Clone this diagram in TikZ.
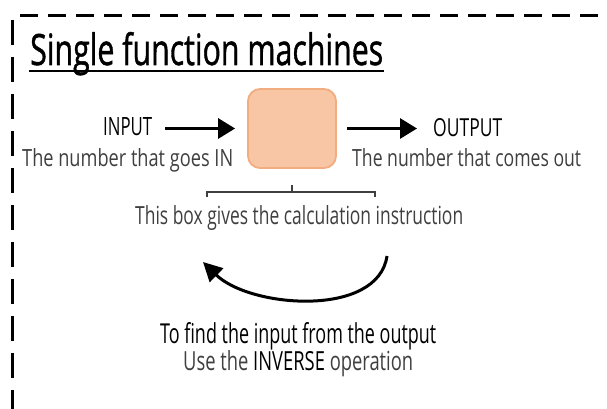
\documentclass[tikz,border=0pt]{standalone}
\usepackage{fontspec}
\setmainfont{Open Sans}
\newfontfamily\thickfont[FakeBold=1.2]{Open Sans}
\usepackage{graphicx}
\usetikzlibrary{arrows.meta}
\definecolor{txtgray}{HTML}{3F3F3F}
\definecolor{boxfill}{HTML}{F8C6A4}
\definecolor{boxline}{HTML}{F1AC80}
\newcommand{\fitto}[3]{\resizebox{#1pt}{#2pt}{#3}}
\begin{document}
\begin{tikzpicture}[x=1pt,y=-1pt,
  lbl/.style={inner sep=0pt, anchor=base west},
  border/.style={line width=3pt, black},
  arr/.style={line width=3pt, -{Triangle[length=17pt,width=20pt]}},
  machine/.style={draw=boxline, fill=boxfill, line width=1.8pt, rounded corners=12pt,
                  minimum width=88pt, minimum height=79pt, inner sep=0pt},
  brace/.style={line width=1.6pt, txtgray}
]
\useasboundingbox (0,0) rectangle (607,409);
% dashed frame
\draw[border, dash pattern=on 18pt off 10pt] (20,16) -- (607,16);
\draw[border, dash pattern=on 25pt off 12pt] (12,20) -- (12,409);

% title
\node[lbl] (title) at (30,65) {\fitto{353}{33}{\thickfont Single function machines}};
\draw[line width=2pt] (29,71) -- (384,71);

% machine
\node[machine] (box) at (292,128.5) {};

\node[lbl] (in) at (103,135) {\fitto{49}{18}{INPUT}};
\node[lbl] (out) at (433,136) {\fitto{69}{18}{OUTPUT}};
\node[lbl] (goesin) at (22,166) {\fitto{211}{18}{\color{txtgray}The number that goes IN}};
\node[lbl] (comesout) at (352,166) {\fitto{229}{18}{\color{txtgray}The number that comes out}};

\draw[arr, shorten <=13pt, shorten >=12pt] (in.east |- box.west) -- (box.west);
\draw[arr, shorten <=10pt, shorten >=16pt] (box.east) -- (out.west |- box.east);

% bracket
\coordinate (bl) at (207,192);
\coordinate (br) at (375,192);
\draw[brace] ([yshift=-5pt]bl) -- (bl) -- (br) -- ([yshift=-5pt]br);
\draw[brace] (box.south |- bl) -- ++(0,-7);

\node[lbl] (calc) at (135,224) {\fitto{328}{19}{\color{txtgray}This box gives the calculation instruction}};

% inverse arrow
\coordinate (cs) at (387,256);
\coordinate (ce) at (203,262);
\draw[line width=3pt, -{Triangle[length=19pt,width=19pt]}] (cs) .. controls (378,318) and (250,308) .. (ce);

\node[lbl] (find) at (160,343) {\fitto{276}{21}{To find the input from the output}};
\node[lbl] (use) at (183,370) {\fitto{230}{20}{\textcolor{txtgray}{Use the} INVERSE \textcolor{txtgray}{operation}}};
\end{tikzpicture}
\end{document}
